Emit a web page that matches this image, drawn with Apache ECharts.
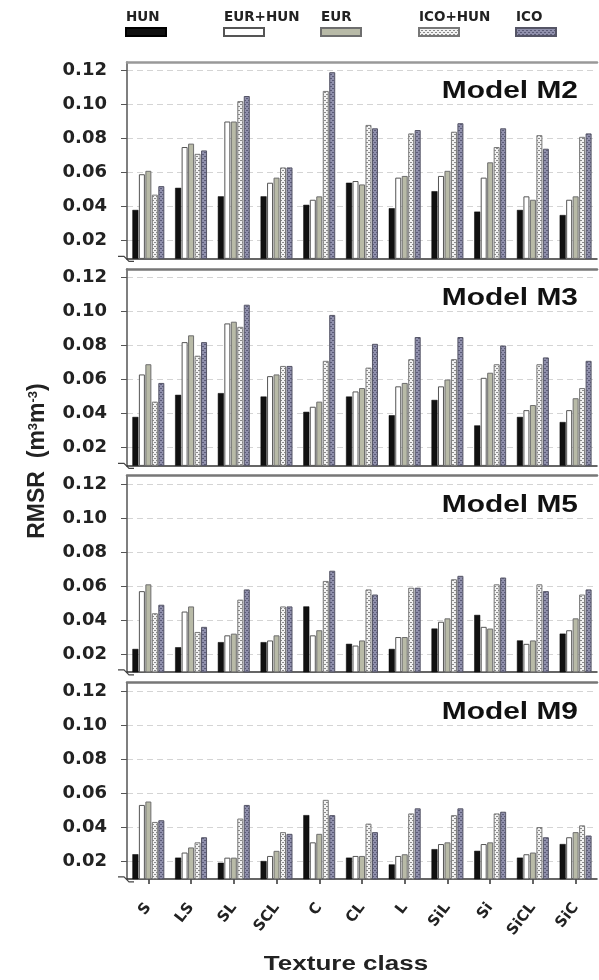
<!DOCTYPE html>
<html>
<head>
<meta charset="utf-8">
<script src="https://cdn.jsdelivr.net/npm/echarts@6/dist/echarts.min.js"></script>
<style>
  html, body { margin: 0; padding: 0; background: #fff; }
  #chart { width: 599px; height: 980px; }
</style>
</head>
<body>
<div id="chart"></div>
<script>
// Texture classes on the shared category axis
const categories = ['S', 'LS', 'SL', 'SCL', 'C', 'CL', 'L', 'SiL', 'Si', 'SiCL', 'SiC'];
const seriesNames = ['HUN', 'EUR+HUN', 'EUR', 'ICO+HUN', 'ICO'];
const modelNames = ['Model M2', 'Model M3', 'Model M5', 'Model M9'];
const yTickValues = [0.02, 0.04, 0.06, 0.08, 0.10, 0.12];

// RMSR per texture class, Model M2
const m2Hun    = [0.038, 0.051, 0.046, 0.046, 0.041, 0.054, 0.039, 0.049, 0.037, 0.038, 0.035];
const m2EurHun = [0.059, 0.075, 0.090, 0.054, 0.044, 0.055, 0.057, 0.058, 0.057, 0.046, 0.044];
const m2Eur    = [0.061, 0.077, 0.090, 0.057, 0.046, 0.053, 0.058, 0.061, 0.066, 0.044, 0.046];
const m2IcoHun = [0.047, 0.071, 0.102, 0.063, 0.108, 0.088, 0.083, 0.084, 0.075, 0.082, 0.081];
const m2Ico    = [0.052, 0.073, 0.105, 0.063, 0.119, 0.086, 0.085, 0.089, 0.086, 0.074, 0.083];

// Model M3
const m3Hun    = [0.038, 0.051, 0.052, 0.050, 0.041, 0.050, 0.039, 0.048, 0.033, 0.038, 0.035];
const m3EurHun = [0.063, 0.082, 0.093, 0.062, 0.044, 0.053, 0.056, 0.056, 0.061, 0.042, 0.042];
const m3Eur    = [0.069, 0.086, 0.094, 0.063, 0.047, 0.055, 0.058, 0.060, 0.064, 0.045, 0.049];
const m3IcoHun = [0.047, 0.074, 0.091, 0.068, 0.071, 0.067, 0.072, 0.072, 0.069, 0.069, 0.055];
const m3Ico    = [0.058, 0.082, 0.104, 0.068, 0.098, 0.081, 0.085, 0.085, 0.080, 0.073, 0.071];

// Model M5
const m5Hun    = [0.023, 0.024, 0.027, 0.027, 0.048, 0.026, 0.023, 0.035, 0.043, 0.028, 0.032];
const m5EurHun = [0.057, 0.045, 0.031, 0.028, 0.031, 0.025, 0.030, 0.039, 0.036, 0.026, 0.034];
const m5Eur    = [0.061, 0.048, 0.032, 0.031, 0.034, 0.028, 0.030, 0.041, 0.035, 0.028, 0.041];
const m5IcoHun = [0.044, 0.033, 0.052, 0.048, 0.063, 0.058, 0.059, 0.064, 0.061, 0.061, 0.055];
const m5Ico    = [0.049, 0.036, 0.058, 0.048, 0.069, 0.055, 0.059, 0.066, 0.065, 0.057, 0.058];

// Model M9
const m9Hun    = [0.024, 0.022, 0.019, 0.020, 0.047, 0.022, 0.018, 0.027, 0.026, 0.022, 0.030];
const m9EurHun = [0.053, 0.025, 0.022, 0.023, 0.031, 0.023, 0.023, 0.030, 0.030, 0.024, 0.034];
const m9Eur    = [0.055, 0.028, 0.022, 0.026, 0.036, 0.023, 0.024, 0.031, 0.031, 0.025, 0.037];
const m9IcoHun = [0.043, 0.031, 0.045, 0.037, 0.056, 0.042, 0.048, 0.047, 0.048, 0.040, 0.041];
const m9Ico    = [0.044, 0.034, 0.053, 0.036, 0.047, 0.037, 0.051, 0.051, 0.049, 0.034, 0.035];

const panelValues = [
  [m2Hun, m2EurHun, m2Eur, m2IcoHun, m2Ico],
  [m3Hun, m3EurHun, m3Eur, m3IcoHun, m3Ico],
  [m5Hun, m5EurHun, m5Eur, m5IcoHun, m5Ico],
  [m9Hun, m9EurHun, m9Eur, m9IcoHun, m9Ico]
];

// ---- layout ----
const GRID_LEFT = 127;
const GRID_RIGHT = 2;
const PANEL_TOPS = [62, 269, 475.5, 682.5];
const PANEL_HEIGHT = 196.4;
const Y_MIN = 0.0095;   // broken axis: bars rise from the axis floor
const Y_MAX = 0.125;
const LEGEND_LEFTS = [125, 223, 320, 418, 515];

// small repeating fills for the hatched series
function makePattern(bg, fg) {
  const c = document.createElement('canvas');
  c.width = 4; c.height = 4;
  const ctx = c.getContext('2d');
  ctx.fillStyle = bg;
  ctx.fillRect(0, 0, 4, 4);
  ctx.fillStyle = fg;
  ctx.fillRect(0, 0, 2, 1);
  ctx.fillRect(2, 2, 2, 1);
  return { image: c, repeat: 'repeat' };
}

const barStyles = [
  { color: '#111111', borderColor: '#000000', borderWidth: 0.5 },
  { color: '#ffffff', borderColor: '#555555', borderWidth: 1 },
  { color: '#b8baa7', borderColor: '#6e6e6e', borderWidth: 1 },
  { color: makePattern('#f2f2f2', '#8a8a8a'), borderColor: '#777777', borderWidth: 1 },
  { color: makePattern('#9090ac', '#5c5c78'), borderColor: '#555566', borderWidth: 1 }
];

const grids = [], xAxes = [], yAxes = [], series = [], graphics = [];

PANEL_TOPS.forEach((top, i) => {
  const isLast = i === PANEL_TOPS.length - 1;
  grids.push({ left: GRID_LEFT, right: GRID_RIGHT, top: top, height: PANEL_HEIGHT });

  xAxes.push({
    type: 'category', gridIndex: i, data: categories, position: 'bottom',
    axisLine: { show: true, onZero: false, lineStyle: { color: '#333', width: 1.5 } },
    axisTick: { show: isLast, alignWithLabel: true, length: 5, lineStyle: { color: '#333', width: 1.5 } },
    axisLabel: {
      show: isLast, rotate: 52, margin: 26, interval: 0,
      fontFamily: 'DejaVu Sans', fontWeight: 'bold', fontSize: 15, color: '#222'
    },
    splitLine: { show: false }
  });

  yAxes.push({
    type: 'value', gridIndex: i, min: Y_MIN, max: Y_MAX,
    axisLine: { show: true, lineStyle: { color: '#555', width: 1.5 } },
    axisTick: { show: true, customValues: yTickValues, length: 6, lineStyle: { color: '#555' } },
    axisLabel: {
      customValues: yTickValues, margin: 20,
      formatter: v => v.toFixed(2),
      fontFamily: 'DejaVu Sans', fontWeight: 'bold', fontSize: 18, color: '#222'
    },
    splitLine: { show: true, lineStyle: { color: '#d4d4d4', type: [6, 4], width: 1 } }
  });

  seriesNames.forEach((name, s) => {
    series.push({
      type: 'bar', name: name, xAxisIndex: i, yAxisIndex: i,
      data: panelValues[i][s],
      barWidth: 6, barGap: '8%',
      itemStyle: barStyles[s],
      clip: true, silent: true
    });
  });

  // model name inside each panel
  graphics.push({
    type: 'text', x: 578, y: top + 30, scaleX: 1.3,
    style: {
      text: modelNames[i], font: 'bold 23px "Liberation Sans", Arial, sans-serif',
      fill: '#111', align: 'right', verticalAlign: 'middle',
      textAlign: 'right', textVerticalAlign: 'middle'
    }
  });

  // axis break mark at the foot of each y axis
  const base = top + PANEL_HEIGHT;
  graphics.push({
    type: 'polyline',
    shape: { points: [[GRID_LEFT - 9, base - 2], [GRID_LEFT - 3, base - 2], [GRID_LEFT + 2, base + 3], [GRID_LEFT + 7, base + 3]] },
    style: { stroke: '#444', lineWidth: 1.2, fill: null }
  });
});

// top frame line of each panel
PANEL_TOPS.forEach((top, i) => {
  xAxes.push({
    type: 'category', gridIndex: i, data: categories, position: 'top',
    axisLine: { show: true, onZero: false, lineStyle: { color: i === 0 ? '#999' : '#777', width: 2.5 } },
    axisTick: { show: false }, axisLabel: { show: false }, splitLine: { show: false }
  });
});

// legend: swatch with its label set above it (two-line label, blank second line)
const legends = seriesNames.map((name, s) => ({
  data: [name], left: LEGEND_LEFTS[s], top: 2, padding: 0,
  icon: 'rect', itemWidth: 40, itemHeight: 8, selectedMode: false,
  formatter: n => n + '\n ',
  textStyle: {
    fontFamily: 'DejaVu Sans', fontWeight: 'bold', fontSize: 13.5, color: '#222',
    lineHeight: 30, padding: [0, 0, 0, -45]
  }
}));

// axis titles
graphics.push({
  type: 'text', x: 346, y: 964, scaleX: 1.3,
  style: {
    text: 'Texture class', font: 'bold 20px "Liberation Sans", Arial, sans-serif',
    fill: '#222', align: 'center', verticalAlign: 'middle',
    textAlign: 'center', textVerticalAlign: 'middle'
  }
});
graphics.push({
  type: 'text', x: 38, y: 461, rotation: Math.PI / 2,
  style: {
    text: '{a|RMSR  (m}{s|3}{a|m}{s|-3}{a|)}',
    rich: {
      a: { fontFamily: '"Liberation Sans", Arial, sans-serif', fontWeight: 'bold', fontSize: 23, fill: '#222', color: '#222' },
      s: { fontFamily: '"Liberation Sans", Arial, sans-serif', fontWeight: 'bold', fontSize: 13, fill: '#222', color: '#222', verticalAlign: 'top' }
    },
    align: 'center', verticalAlign: 'middle', textAlign: 'center', textVerticalAlign: 'middle'
  }
});

const chart = echarts.init(document.getElementById('chart'), null, { renderer: 'canvas' });
chart.setOption({
  animation: false,
  backgroundColor: '#ffffff',
  legend: legends,
  grid: grids,
  xAxis: xAxes,
  yAxis: yAxes,
  series: series,
  graphic: graphics
});
</script>
</body>
</html>
